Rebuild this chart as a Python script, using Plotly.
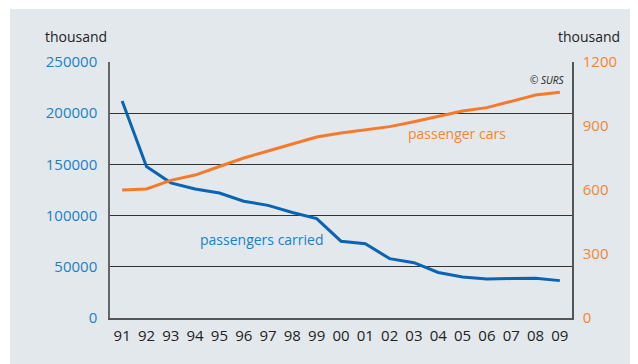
import plotly.graph_objects as go

years = ["91", "92", "93", "94", "95", "96", "97", "98", "99", "00",
         "01", "02", "03", "04", "05", "06", "07", "08", "09"]

# thousand, left axis
passengers_carried = [212000, 148000, 132000, 126000, 122000, 114000, 110000, 103000, 97000, 75000,
                      72500, 58000, 54000, 44500, 40000, 38000, 38500, 38700, 36500]

# thousand, right axis
passenger_cars = [600, 605, 645, 670, 710, 750, 783, 816, 848, 867,
                  881, 897, 920, 944, 970, 986, 1014, 1045, 1058]

left_ticks = [0, 50000, 100000, 150000, 200000, 250000]
right_ticks = [0, 300, 600, 900, 1200]

BLUE = "#0a64b4"
BLUE_TXT = "#1a80c4"
ORANGE = "#f57a2a"
ORANGE_TXT = "#f5862e"
FONT = "Open Sans"

fig = go.Figure()
fig.add_trace(go.Scatter(x=years, y=passengers_carried, mode="lines",
                         line=dict(color=BLUE, width=3), name="passengers carried"))
fig.add_trace(go.Scatter(x=years, y=passenger_cars, mode="lines", yaxis="y2",
                         line=dict(color=ORANGE, width=3), name="passenger cars"))

# page body has an 8px margin, so the figure is 8px smaller on each side
fig.update_layout(
    width=630, height=356,
    margin=dict(l=102, r=66, t=54, b=46),
    paper_bgcolor="white",
    plot_bgcolor="rgba(0,0,0,0)",
    showlegend=False,
    font=dict(family=FONT, size=15, color="#222"),
    xaxis=dict(type="category", range=[-0.5, 18.5], showgrid=False,
               showline=True, linecolor="#555", linewidth=2,
               ticks="", ticklabelstandoff=3, tickfont=dict(size=15, color="#222"),
               zeroline=False),
    yaxis=dict(range=[0, 250000], tickvals=left_ticks, ticktext=[str(v) for v in left_ticks],
               showgrid=True, gridcolor="#333", gridwidth=1,
               showline=True, linecolor="#666", linewidth=1.5,
               ticks="", ticklabelstandoff=8, tickfont=dict(size=15, color=BLUE_TXT),
               zeroline=False),
    yaxis2=dict(range=[0, 1200], tickvals=right_ticks, overlaying="y", side="right",
                showgrid=False, showline=True, linecolor="#555", linewidth=1.5,
                ticks="", ticklabelstandoff=6, tickfont=dict(size=15, color=ORANGE_TXT),
                zeroline=False),
    shapes=[dict(type="rect", xref="paper", yref="paper", layer="below",
                 x0=-0.2165, x1=1.15, y0=-0.2, y1=1.207,
                 fillcolor="#e3e8ed", line=dict(width=0))],
    annotations=[
        dict(text="thousand", xref="paper", yref="paper", x=-0.0736, y=1.098,
             xanchor="center", yanchor="middle",
             showarrow=False, font=dict(size=14, color="#222")),
        dict(text="thousand", xref="paper", yref="paper", x=1.0368, y=1.098,
             xanchor="center", yanchor="middle",
             showarrow=False, font=dict(size=14, color="#222")),
        dict(text="passengers carried", xref="x", yref="y", x=5.75, y=77000,
             xanchor="center", yanchor="middle",
             showarrow=False, font=dict(size=14, color=BLUE_TXT)),
        dict(text="passenger cars", xref="x", yref="y", x=13.78, y=179700,
             xanchor="center", yanchor="middle",
             showarrow=False, font=dict(size=14, color=ORANGE_TXT)),
        dict(text="<i>© SURS</i>", xref="paper", yref="paper", x=0.987, y=0.93,
             xanchor="right", yanchor="middle",
             showarrow=False, font=dict(size=10, color="#222")),
    ],
)

fig.write_html("out.html")
